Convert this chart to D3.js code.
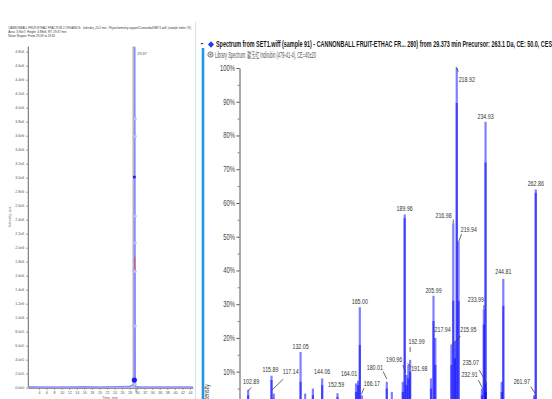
<!DOCTYPE html>
<html><head><meta charset="utf-8">
<script src="https://cdn.jsdelivr.net/npm/d3@7"></script>
<style>html,body{margin:0;padding:0;background:#fff;overflow:hidden}</style>
</head><body>
<svg id="c" width="552" height="399" xmlns="http://www.w3.org/2000/svg"></svg>
<script>
// ================= DATA =================
// Left panel: extracted ion chromatogram
const chromHeader = [
  "CANNONBALL FRUIT-ETHAC FRACTION 2 ORGANICS - Indirubin_20.2 min - Phytochemistry support\\Cannonball\\SET1.wiff, (sample Index: 91)",
  "Area: 3.90e7, Height: 4.88e6, RT: 29.37 min",
  "Noise Region: From 29.09 to 29.61"
];
const chromTimes     = [1.17, 4, 8, 12, 16, 20, 24, 28, 29.20, 29.28, 29.31, 29.33, 29.35, 29.37, 29.39, 29.41, 29.43, 29.45, 29.50, 30.5, 34, 38, 42, 44.8];
const chromIntensity = [1.2e4, 1.0e4, 1.1e4, 1.0e4, 1.2e4, 1.1e4, 1.3e4, 1.5e4, 5e4, 1.1e5, 8.8e5, 2.45e6, 3.59e6, 4.87e6, 3.84e6, 3.01e6, 2.07e6, 1.66e6, 1.5e4, 1.2e4, 1.1e4, 1.0e4, 1.1e4, 1.0e4];
const chromScanIntensity = [5e4, 8.8e5, 1.66e6, 2.07e6, 2.45e6, 3.59e6, 3.84e6];
const chromSelectedScan  = [1.1e5, 3.01e6];
const chromHighlight     = [1.68e6, 1.87e6];
const chromPeakRT = 29.37;
const chromYTicks = d3.range(0, 4.8e6 + 1, 2e5);
const chromXTicks = d3.range(4, 45, 2);

// Right panel: MS/MS spectrum vs library spectrum
const spectrumTitle = "Spectrum from SET1.wiff (sample 91) - CANNONBALL FRUIT-ETHAC FR... 280) from 29.373 min Precursor: 263.1 Da, CE: 50.0, CES: 30.0";
const libraryTitle  = "Library Spectrum: 靛玉红 Indirubin (479-41-4), CE=40±20";
const peakMz           = [102.89,115.89,117.14,132.05,134.6,138.9,144.06,152.59,162.9,164.01,165.00,166.17,180.01,182.8,188.9,189.96,190.96,191.98,192.99,204.6,205.99,207.0,215.95,216.98,217.94,218.92,219.94,232.91,233.99,234.93,235.07,243.9,244.81,261.97,262.86];
const sampleIntensity  = [4.6,8.8,3.5,15.8,3.5,5.0,8.0,3.6,6.5,7.3,29.1,3.0,7.0,4.0,7.0,56.6,9.0,12.0,13.5,8.0,32.5,20.0,18.0,54.0,19.0,100,48.5,5.0,28.5,84.1,6.5,7.0,37.5,3.0,64.0];
const libraryIntensity = [3.0,7.5,2.0,7.0,0,3.0,6.0,2.5,4.0,6.0,17.9,1.5,5.0,0,4.0,55.5,6.0,8.0,10.0,5.0,25.0,12.0,12.0,31.0,14.0,89.6,31.0,3.0,24.0,72.0,4.0,4.0,29.5,2.0,63.0];
const labeledPeaks = ["102.89","115.89","117.14","132.05","144.06","152.59","164.01","165.00","166.17","180.01","189.96","190.96","191.98","192.99","205.99","215.95","216.98","217.94","218.92","219.94","232.91","233.99","234.93","235.07","244.81","261.97","262.86"];
const spectrumYTicks = d3.range(10, 101, 10);

// ================= LAYOUT =================
const SANS = "'Liberation Sans',Arial,sans-serif";
const CJK = "'Liberation Sans','Noto Sans CJK SC',sans-serif";
const SQUEEZE = 0.68; // the source uses a narrow typeface
// label offsets (px) relative to peak top: text centre/baseline, optional leader segment
const labelLayout = {
 "102.89": {tx:3, ty:-6, lead:[0,1,3,-2.5]},
 "115.89": {tx:-1, ty:-3.5},
 "117.14": {tx:17, ty:-19.5, lead:[-1.7,-3.6,9.5,-14.5]},
 "132.05": {tx:0, ty:-3.5},
 "144.06": {tx:0, ty:-4},
 "152.59": {tx:-1.4, ty:-5.8},
 "164.01": {tx:-9, ty:-4.3},
 "165.00": {tx:0, ty:-3},
 "166.17": {tx:10, ty:-9.3, lead:[-0.5,-1,2,-7]},
 "180.01": {tx:-12, ty:-11.8, lead:[-3.7,-10.3,0,-2.8]},
 "189.96": {tx:0, ty:-3.5},
 "190.96": {tx:-12.4, ty:-12.7, lead:[-3.7,-10,-0.9,-3]},
 "191.98": {tx:10.9, ty:6.1, lead:[-0.6,-1.6,2.7,2.4]},
 "192.99": {tx:6.4, ty:-15.9, lead:[0,-12.9,0,-7.9]},
 "205.99": {tx:0, ty:-3},
 "215.95": {tx:16.9, ty:-13, lead:[0.3,0.3,9.3,-8.7]},
 "216.98": {tx:-9.7, ty:-4.9, lead:[0,-3.7,0,-0.2]},
 "217.94": {tx:-12.4, ty:-9.6},
 "218.92": {tx:10, ty:13.5, lead:[-0.7,-1,1.6,3.7]},
 "219.94": {tx:10.2, ty:-10.1, lead:[0,0.2,3,-7.8]},
 "232.91": {tx:-12.4, ty:-11.8, lead:[-3.6,-8.5,0.8,-0.2]},
 "233.99": {tx:-8, ty:-7.5, lead:[0,-4.2,0,-0.2]},
 "234.93": {tx:0, ty:-3},
 "235.07": {tx:-15, ty:-18.5, lead:[-6.5,-13.5,0.9,-0.2]},
 "244.81": {tx:0, ty:-5},
 "261.97": {tx:-12.4, ty:-11.3, lead:[-3.4,-8.6,0.9,-2]},
 "262.86": {tx:0, ty:-3.8}
};
const condense = (sel, k) => {
  sel.each(function(){
    const w = this.getComputedTextLength();
    d3.select(this).attr("textLength", w*k).attr("lengthAdjust","spacingAndGlyphs");
  });
};

const svg = d3.select("#c");
svg.append("rect").attr("width",552).attr("height",399).attr("fill","#fff");

// ================= LEFT PANEL =================
const L = svg.append("g");
const xC = d3.scaleLinear().domain([1.17, 44.8]).range([28.3, 193]);
const yC = d3.scaleLinear().domain([0, 4.8e6]).range([387.7, 51.7]);

const hdrY = [28.5, 32.8, 37];
const hdrW = [183, 58, 47];
chromHeader.forEach((t,i)=>{
  L.append("text").attr("x",8.3).attr("y",hdrY[i]).attr("font-size",4).attr("font-family",SANS)
   .attr("fill","#333").attr("textLength",hdrW[i]).attr("lengthAdjust","spacingAndGlyphs").text(t);
});

const sciFmt = d => d===0 ? "0.0e0" : d3.format(".1e")(d).replace("+","");
const yAxC = L.append("g").attr("transform","translate(28.3,0)")
  .call(d3.axisLeft(yC).tickValues(chromYTicks).tickSize(2).tickPadding(2).tickFormat(sciFmt).tickSizeOuter(0));
yAxC.select(".domain").attr("stroke","#666").attr("d","M0,46.5V387.7");
yAxC.selectAll(".tick line").attr("stroke","#888");
yAxC.selectAll("text").attr("font-size",3.6).attr("font-family",SANS).attr("fill","#555");

const xAxC = L.append("g").attr("transform","translate(0,387.7)")
  .call(d3.axisBottom(xC).tickValues(chromXTicks).tickSize(2).tickPadding(1.5).tickSizeOuter(0));
xAxC.select(".domain").attr("stroke","#666");
xAxC.selectAll(".tick line").attr("stroke","#888");
xAxC.selectAll("text").attr("font-size",3.6).attr("font-family",SANS).attr("fill","#555");

L.append("text").attr("transform","translate(11,217) rotate(-90)").attr("text-anchor","middle")
  .attr("font-size",3.6).attr("fill","#666").attr("font-family",SANS).text("Intensity, cps");
L.append("text").attr("x",110).attr("y",398.5).attr("text-anchor","middle")
  .attr("font-size",3.6).attr("fill","#666").attr("font-family",SANS).text("Time, min");

// cursor line at the selected retention time
L.append("line").attr("x1",xC(chromPeakRT)-1.6).attr("x2",xC(chromPeakRT)-1.6)
  .attr("y1",yC(4.87e6)-0.5).attr("y2",yC(0)).attr("stroke","#8a8a8a").attr("stroke-width",0.9);

// chromatogram trace
L.append("path").datum(chromTimes.map((t,i)=>[t,chromIntensity[i]]))
  .attr("d",d3.line().x(d=>xC(d[0])).y(d=>yC(d[1])))
  .attr("fill","none").attr("stroke","#8c8cff").attr("stroke-width",1.6);
L.append("line").attr("x1",xC(chromPeakRT)).attr("x2",xC(chromPeakRT))
  .attr("y1",yC(chromHighlight[0])).attr("y2",yC(chromHighlight[1])).attr("stroke","#e04848").attr("stroke-width",0.9);
L.selectAll("circle.scan").data(chromScanIntensity).enter().append("circle")
  .attr("cx",xC(chromPeakRT)).attr("cy",d=>yC(d)).attr("r",1.6)
  .attr("fill","#c8c8ff").attr("stroke","#9a9aff").attr("stroke-width",0.6);
L.selectAll("circle.sel").data(chromSelectedScan).enter().append("circle")
  .attr("cx",xC(chromPeakRT)-0.4).attr("cy",d=>yC(d)).attr("r",(d,i)=>i===0?2.6:1.5)
  .attr("fill","#1c1cf0");
L.append("line").attr("x1",xC(chromPeakRT)+1.3).attr("x2",xC(chromPeakRT)+1.3)
  .attr("y1",yC(0)+1).attr("y2",yC(0)+5).attr("stroke","#5aa05a").attr("stroke-width",1);
L.append("text").attr("x",xC(chromPeakRT)+2.6).attr("y",55).attr("font-size",3.8)
  .attr("fill","#444").attr("font-family",SANS).text(chromPeakRT.toFixed(2));

// separator of left pane
svg.append("line").attr("x1",195.5).attr("x2",195.5).attr("y1",22).attr("y2",399)
  .attr("stroke","#d5e3da").attr("stroke-width",1);

// ================= RIGHT PANEL =================
const R = svg.append("g");
const xS = d3.scaleLinear().domain([97.8, 271.9]).range([239, 552]);
const yS = d3.scaleLinear().domain([0, 100]).range([405.4, 68]);

// blue selection border of the pane
R.append("line").attr("x1",203).attr("x2",203).attr("y1",48).attr("y2",399)
  .attr("stroke","#1f9ae0").attr("stroke-width",2.6);

// titles
R.append("text").attr("x",200.5).attr("y",46).attr("font-size",9).attr("font-family",SANS).attr("font-weight","bold").attr("fill","#333").text("-");
R.append("path").attr("d","M211,41.2 L214,44.5 L211,47.8 L208,44.5Z").attr("fill","#1a3cf0");
const t1 = R.append("text").attr("x",216).attr("y",47).attr("font-family",SANS).attr("font-weight","bold")
  .attr("fill","#1a1a1a").attr("font-size",9.2);
t1.text(spectrumTitle.slice(0, spectrumTitle.indexOf("CES")+3));
const wPre = t1.node().getComputedTextLength();
t1.text(spectrumTitle);
const wFull = t1.node().getComputedTextLength();
t1.attr("textLength", wFull*(552-216)/wPre).attr("lengthAdjust","spacingAndGlyphs");

R.append("circle").attr("cx",210.5).attr("cy",54.5).attr("r",2.6).attr("fill","#e8e8e8").attr("stroke","#777").attr("stroke-width",1);
R.append("circle").attr("cx",210.5).attr("cy",54.5).attr("r",1).attr("fill","#777");
R.append("text").attr("x",215).attr("y",57.5).attr("font-family",CJK).attr("fill","#555").attr("font-size",8.2)
  .attr("textLength",101).attr("lengthAdjust","spacingAndGlyphs").text(libraryTitle);

// y axis
const yAxS = R.append("g").attr("transform","translate(239.5,0)")
  .call(d3.axisLeft(yS).tickValues(spectrumYTicks).tickSize(3).tickPadding(1.5).tickFormat(d=>d+"%").tickSizeOuter(0));
yAxS.select(".domain").attr("stroke","#555");
yAxS.selectAll(".tick line").attr("stroke","#555");
yAxS.selectAll("text").attr("font-size",8.2).attr("font-family",SANS).attr("fill","#444").attr("dy","0.3em").call(condense,0.72);
const yMinor = R.append("g").attr("transform","translate(239.5,0)")
  .call(d3.axisLeft(yS).tickValues(d3.range(5,100,10)).tickSize(1.8).tickFormat(()=>"").tickSizeOuter(0));
yMinor.select(".domain").remove();
yMinor.selectAll(".tick line").attr("stroke","#777");
R.append("text").attr("transform","translate(209,384) rotate(-90)").attr("text-anchor","end")
  .attr("font-size",7).attr("font-family",SANS).attr("fill","#444").text("% Intensity").call(condense,0.75);

// peaks: library and sample as translucent blue sticks (overlap shows darker)
const peaks = peakMz.map((m,i)=>({mz:m, s:sampleIntensity[i], l:libraryIntensity[i]}));
const gP = R.append("g");
gP.selectAll("line.lib").data(peaks.filter(d=>d.l>0)).enter().append("line")
  .attr("x1",d=>xS(d.mz)).attr("x2",d=>xS(d.mz)).attr("y1",yS(0)).attr("y2",d=>yS(d.l))
  .attr("stroke","#0000ff").attr("stroke-opacity",0.5).attr("stroke-width",2.2);
gP.selectAll("line.smp").data(peaks).enter().append("line")
  .attr("x1",d=>xS(d.mz)).attr("x2",d=>xS(d.mz)).attr("y1",yS(0)).attr("y2",d=>yS(d.s))
  .attr("stroke","#0000ff").attr("stroke-opacity",0.5).attr("stroke-width",2.2);

// labels (horizontally squeezed with a transform so their boxes stay true)
const gL = R.append("g");
labeledPeaks.forEach(lbl=>{
  const p = peaks.find(d=>Math.abs(d.mz - (+lbl))<1e-6);
  const lay = labelLayout[lbl];
  const px = xS(p.mz), py = yS(Math.max(p.s,p.l));
  gL.append("text").attr("transform",`translate(${px+lay.tx},${py+lay.ty}) scale(${SQUEEZE},1)`)
    .attr("text-anchor","middle")
    .attr("font-size",7.8).attr("font-family",SANS).attr("fill","#333").text(lbl);
  if (lay.lead) {
    gL.append("line").attr("x1",px+lay.lead[0]).attr("y1",py+lay.lead[1])
      .attr("x2",px+lay.lead[2]).attr("y2",py+lay.lead[3]).attr("stroke","#444").attr("stroke-width",0.8);
  }
});
</script>
</body></html>
